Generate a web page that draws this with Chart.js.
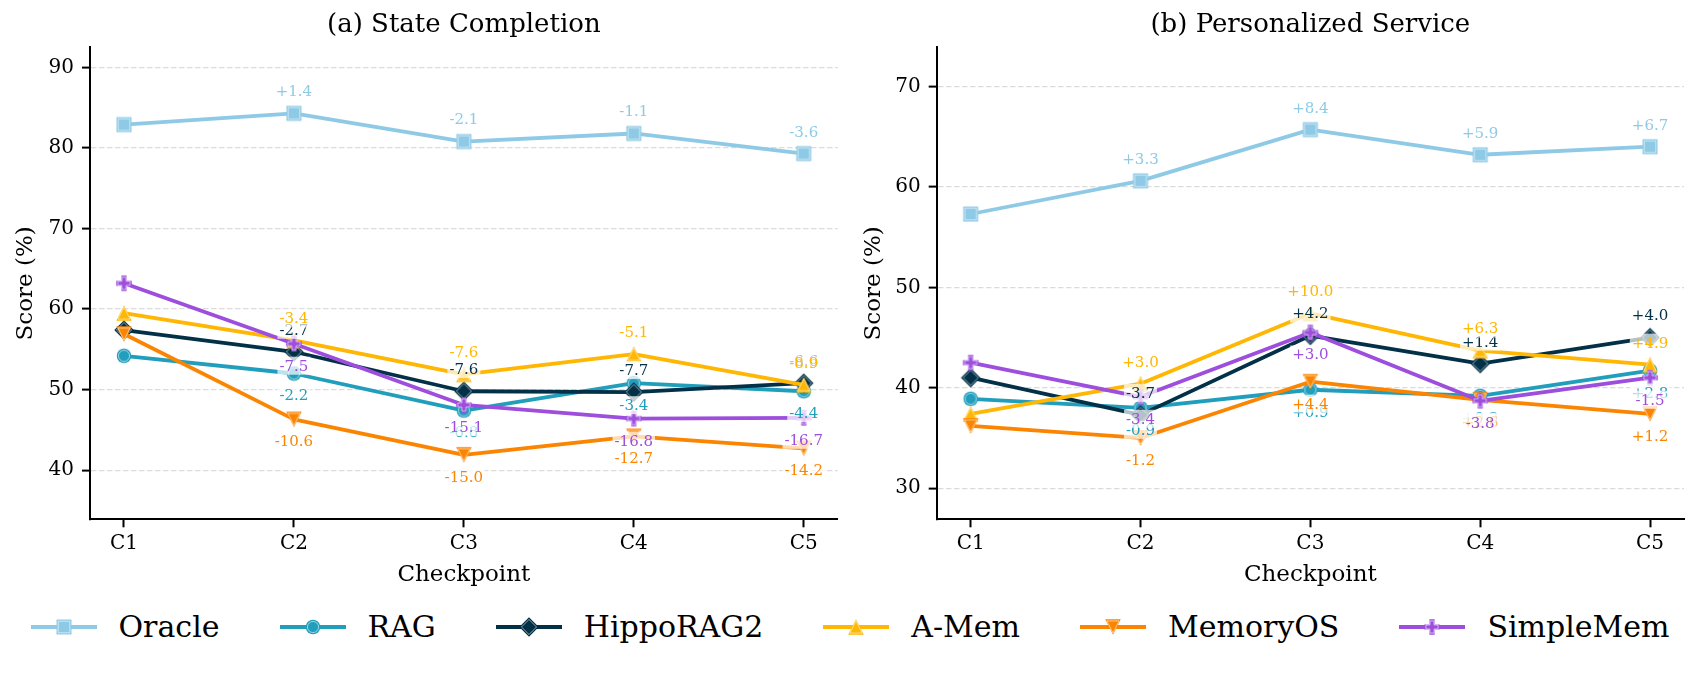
<!DOCTYPE html>
<html><head><meta charset="utf-8">
<script src="https://cdn.jsdelivr.net/npm/chart.js@4.4.1/dist/chart.umd.min.js"></script>
<style>
html,body{margin:0;padding:0;background:#fff;width:1700px;height:673px;overflow:hidden;font-family:'DejaVu Serif';}
#c1{position:absolute;left:0;top:0;}
#c2{position:absolute;left:850px;top:0;}
#legend{position:absolute;left:0;top:605px;width:1700px;height:44px;display:flex;justify-content:center;align-items:center;}
.item{display:flex;align-items:center;margin-right:60px;}
.item:last-child{margin-right:0}
.item canvas{margin-right:22px;display:block}
.item span{font-family:'DejaVu Serif';font-size:30px;color:#000;line-height:1;white-space:nowrap}
</style></head><body>
<canvas id="c1" width="860" height="600"></canvas>
<canvas id="c2" width="850" height="600"></canvas>
<div id="legend"></div>
<script>
// ---- data ----
const categories = ['C1', 'C2', 'C3', 'C4', 'C5'];
const seriesNames = ['Oracle', 'RAG', 'HippoRAG2', 'A-Mem', 'MemoryOS', 'SimpleMem'];
const panelTitles = ['(a) State Completion', '(b) Personalized Service'];
const xAxisTitle = 'Checkpoint';
const yAxisTitle = 'Score (%)';

// (a) State Completion
const stateOracle    = [82.9, 84.3, 80.8, 81.8, 79.3];
const stateRAG       = [54.2, 52.0, 47.4, 50.8, 49.8];
const stateHippoRAG2 = [57.4, 54.7, 49.8, 49.7, 50.8];
const stateAMem      = [59.5, 56.1, 51.9, 54.4, 50.6];
const stateMemoryOS  = [56.9, 46.3, 41.9, 44.2, 42.7];
const stateSimpleMem = [63.2, 55.7, 48.1, 46.4, 46.5];

// (b) Personalized Service
const persOracle    = [57.3, 60.6, 65.7, 63.2, 64.0];
const persRAG       = [38.9, 38.0, 39.8, 39.2, 41.7];
const persHippoRAG2 = [41.0, 37.3, 45.2, 42.4, 45.0];
const persAMem      = [37.4, 40.4, 47.4, 43.7, 42.3];
const persMemoryOS  = [36.2, 35.0, 40.6, 38.8, 37.4];
const persSimpleMem = [42.5, 39.1, 45.5, 38.7, 41.0];

const stateYTicks = [40, 50, 60, 70, 80, 90];
const persYTicks  = [30, 40, 50, 60, 70];
const stateYRange = [33.9, 92.5];
const persYRange  = [26.9, 73.9];

// ---- styles ----
const colors = ['#8ecae6', '#219ebc', '#023047', '#ffb703', '#fb8500', '#9d4edd'];
const shapes = ['square', 'circle', 'diamond', 'triUp', 'triDown', 'plus'];
const labelAbove = [true, false, true, true, false, false];
const FONT = 'DejaVu Serif';

function markerPath(ctx, shape, s) {
  ctx.beginPath();
  const h = s / 2;
  if (shape === 'square') { ctx.rect(-h, -h, s, s); }
  else if (shape === 'circle') { ctx.arc(0, 0, h, 0, Math.PI * 2); }
  else if (shape === 'diamond') { const d = h * 1.3; ctx.moveTo(0, -d); ctx.lineTo(d, 0); ctx.lineTo(0, d); ctx.lineTo(-d, 0); ctx.closePath(); }
  else if (shape === 'triUp') { ctx.moveTo(0, -h); ctx.lineTo(h, h); ctx.lineTo(-h, h); ctx.closePath(); }
  else if (shape === 'triDown') { ctx.moveTo(0, h); ctx.lineTo(h, -h); ctx.lineTo(-h, -h); ctx.closePath(); }
  else if (shape === 'plus') {
    const a = s / 6;
    const pts = [[-a,-3*a],[a,-3*a],[a,-a],[3*a,-a],[3*a,a],[a,a],[a,3*a],[-a,3*a],[-a,a],[-3*a,a],[-3*a,-a],[-a,-a]];
    ctx.moveTo(pts[0][0], pts[0][1]);
    for (let k = 1; k < pts.length; k++) ctx.lineTo(pts[k][0], pts[k][1]);
    ctx.closePath();
  }
}
function drawMarker(ctx, shape, color, s) {
  markerPath(ctx, shape, s);
  ctx.fillStyle = color; ctx.fill();
  markerPath(ctx, shape, s - 3.4);
  ctx.strokeStyle = 'rgba(255,255,255,0.55)'; ctx.lineWidth = 1; ctx.stroke();
}
const markerSize = {square: 15, circle: 14.5, diamond: 15, triUp: 15.5, triDown: 15.5, plus: 15.5};
function makeMarker(i) {
  const c = document.createElement('canvas');
  c.width = 30; c.height = 30;
  const ctx = c.getContext('2d');
  ctx.translate(15, 15);
  drawMarker(ctx, shapes[i], colors[i], markerSize[shapes[i]]);
  return c;
}
function makeHandle(i) {
  const c = document.createElement('canvas');
  c.width = 66; c.height = 30;
  const ctx = c.getContext('2d');
  ctx.strokeStyle = colors[i]; ctx.lineWidth = 3.8;
  ctx.beginPath(); ctx.moveTo(0, 15); ctx.lineTo(66, 15); ctx.stroke();
  ctx.translate(33, 15);
  drawMarker(ctx, shapes[i], colors[i], markerSize[shapes[i]]);
  return c;
}
const markers = seriesNames.map((n, i) => makeMarker(i));

// ---- delta label plugin ----
const deltaLabels = {
  id: 'deltaLabels',
  afterDatasetsDraw(chart) {
    const ctx = chart.ctx;
    ctx.save();
    ctx.font = '15px "' + FONT + '"';
    ctx.textAlign = 'center';
    ctx.textBaseline = 'middle';
    chart.data.datasets.forEach((ds, i) => {
      const meta = chart.getDatasetMeta(i);
      const base = ds.data[0].y;
      for (let j = 1; j < ds.data.length; j++) {
        const el = meta.data[j];
        const d = Math.round((ds.data[j].y - base) * 10) / 10;
        const txt = (d > 0 ? '+' : '') + d.toFixed(1);
        const y = el.y + (labelAbove[i] ? -22 : 22);
        const w = ctx.measureText(txt).width;
        ctx.fillStyle = 'rgba(255,255,255,0.7)';
        ctx.fillRect(el.x - w / 2 - 2, y - 9, w + 4, 18);
        ctx.fillStyle = colors[i];
        ctx.fillText(txt, el.x, y + 1);
      }
    });
    ctx.restore();
  }
};

function makeChart(canvasId, title, seriesList, yTicks, yRange, yWidth, yTitlePad, padRight) {
  const datasets = seriesList.map((vals, i) => ({
    label: seriesNames[i],
    data: vals.map((v, j) => ({x: j, y: v})),
    borderColor: colors[i],
    backgroundColor: colors[i],
    borderWidth: 3.8,
    borderJoinStyle: 'round',
    borderCapStyle: 'round',
    pointStyle: markers[i],
    pointRadius: 7,
    pointHoverRadius: 7,
    tension: 0,
    order: seriesList.length - i,
    clip: false
  }));
  return new Chart(document.getElementById(canvasId), {
    type: 'line',
    data: {datasets},
    plugins: [deltaLabels],
    options: {
      responsive: false,
      animation: false,
      events: [],
      layout: {padding: {left: 0, right: padRight, top: 0, bottom: 11.2}},
      plugins: {
        legend: {display: false},
        tooltip: {enabled: false},
        title: {display: true, fullSize: false, text: title, color: '#000',
          font: {family: FONT, size: 26, weight: 'normal'}, padding: {top: 10, bottom: 6.1}}
      },
      scales: {
        x: {
          type: 'linear', min: -0.2, max: 4.2,
          afterBuildTicks: s => { s.ticks = categories.map((c, k) => ({value: k})); },
          afterFit: s => { s.height = 69.5; },
          ticks: {autoSkip: false, maxRotation: 0, color: '#000', padding: 4,
            font: {family: FONT, size: 20}, callback: v => categories[v] ?? ''},
          grid: {drawOnChartArea: false, drawTicks: true, tickLength: 8, tickColor: '#000', tickWidth: 2},
          border: {display: true, color: '#000', width: 2},
          title: {display: true, text: xAxisTitle, color: '#000', font: {family: FONT, size: 23}, padding: {top: 0, bottom: 0}}
        },
        y: {
          type: 'linear', min: yRange[0], max: yRange[1],
          afterBuildTicks: s => { s.ticks = yTicks.map(v => ({value: v})); },
          afterFit: s => { s.width = yWidth; },
          ticks: {color: '#000', padding: 8, font: {family: FONT, size: 20}, callback: v => String(v)},
          grid: {color: '#dcdcdc', lineWidth: 1.2, drawTicks: true, tickLength: 8, tickColor: '#000', tickWidth: 2},
          border: {display: true, color: '#000', width: 2, dash: [5.5, 2.5]},
          title: {display: true, text: yAxisTitle, color: '#000', font: {family: FONT, size: 23}, padding: {top: yTitlePad, bottom: 0}}
        }
      }
    }
  });
}

makeChart('c1', panelTitles[0],
  [stateOracle, stateRAG, stateHippoRAG2, stateAMem, stateMemoryOS, stateSimpleMem],
  stateYTicks, stateYRange, 90, 12, 22.3);
makeChart('c2', panelTitles[1],
  [persOracle, persRAG, persHippoRAG2, persAMem, persMemoryOS, persSimpleMem],
  persYTicks, persYRange, 86.7, 10.2, 16);

// ---- legend ----
const leg = document.getElementById('legend');
seriesNames.forEach((n, i) => {
  const it = document.createElement('div');
  it.className = 'item';
  it.appendChild(makeHandle(i));
  const sp = document.createElement('span');
  sp.textContent = n;
  it.appendChild(sp);
  leg.appendChild(it);
});
</script>
</body></html>
